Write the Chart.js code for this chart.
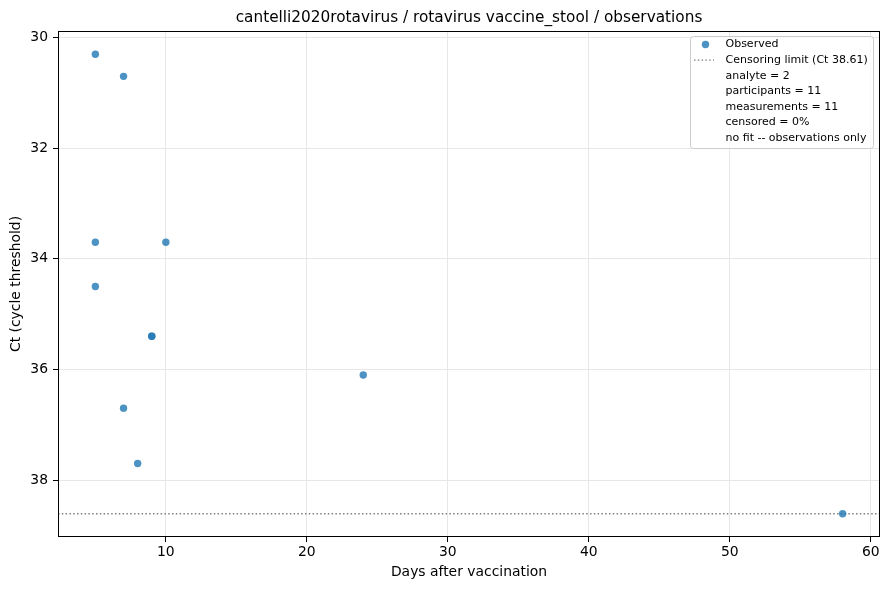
<!DOCTYPE html>
<html>
<head>
<meta charset="utf-8">
<script src="https://cdn.jsdelivr.net/npm/chart.js@4"></script>
<style>
  html, body { margin: 0; padding: 0; background: #fff; }
  #wrap { width: 888px; height: 590px; }
</style>
</head>
<body>
<div id="wrap"><canvas id="ctChart" width="888" height="590"></canvas></div>
<script>
// values
const days = [5, 7, 5, 10, 5, 9, 9, 24, 7, 8, 58];
const ctValues = [30.3, 30.7, 33.7, 33.7, 34.5, 35.4, 35.4, 36.1, 36.7, 37.7, 38.61];
const censorLimit = 38.61;
const xTicks = [10, 20, 30, 40, 50, 60];
const yTicks = [30, 32, 34, 36, 38];
const xRange = [2.35, 60.65];
const yRange = [29.88, 39.03];
const titleText = 'cantelli2020rotavirus / rotavirus vaccine_stool / observations';
const legendLines = [
    'Observed',
    'Censoring limit (Ct ' + censorLimit + ')',
    'analyte = 2',
    'participants = 11',
    'measurements = 11',
    'censored = 0%',
    'no fit -- observations only'
];

const FONT = '"DejaVu Sans", sans-serif';
const AXIS_SIZE = 13.9;
const pointColor = 'rgba(31, 119, 180, 0.8)';

const observed = days.map((d, i) => ({ x: d, y: ctValues[i] }));
const censorLine = xRange.map(x => ({ x: x, y: censorLimit }));

// frame, title and in-plot legend
const decorPlugin = {
    id: 'decor',
    afterDraw(chart) {
        const { ctx, chartArea: a } = chart;
        ctx.save();
        ctx.strokeStyle = '#000';
        ctx.lineWidth = 1;
        ctx.strokeRect(Math.round(a.left) + 0.5, Math.round(a.top) + 0.5,
            Math.round(a.right - a.left) - 1, Math.round(a.bottom - a.top) - 1);

        ctx.fillStyle = '#000';
        ctx.font = '15.3px ' + FONT;
        ctx.textAlign = 'center';
        ctx.textBaseline = 'alphabetic';
        ctx.fillText(titleText, (a.left + a.right) / 2, 21.5);

        // legend box
        const bx = 690, by = 36, bw = 183, bh = 112;
        ctx.beginPath();
        ctx.roundRect(bx + 0.5, by + 0.5, bw, bh, 3);
        ctx.fillStyle = 'rgba(255,255,255,0.8)';
        ctx.fill();
        ctx.strokeStyle = '#cccccc';
        ctx.stroke();

        const rowY = i => 44.5 + i * 15.6;
        ctx.fillStyle = pointColor;
        ctx.beginPath();
        ctx.arc(705.5, rowY(0), 3.7, 0, Math.PI * 2);
        ctx.fill();

        ctx.strokeStyle = '#808080';
        ctx.lineWidth = 1.3;
        ctx.setLineDash([1.5, 2.3]);
        ctx.beginPath();
        ctx.moveTo(694, rowY(1));
        ctx.lineTo(714, rowY(1));
        ctx.stroke();
        ctx.setLineDash([]);

        ctx.fillStyle = '#000';
        ctx.font = '11px ' + FONT;
        ctx.textAlign = 'left';
        ctx.textBaseline = 'middle';
        legendLines.forEach((t, i) => ctx.fillText(t, 725.5, rowY(i)));
        ctx.restore();
    }
};

new Chart(document.getElementById('ctChart'), {
    type: 'scatter',
    data: {
        datasets: [
            {
                label: 'Observed',
                data: observed,
                backgroundColor: pointColor,
                borderWidth: 0,
                pointRadius: 3.7,
                order: 1
            },
            {
                type: 'line',
                label: 'Censoring limit',
                data: censorLine,
                borderColor: '#808080',
                borderWidth: 1.3,
                borderDash: [1.5, 2.3],
                pointRadius: 0,
                fill: false,
                order: 2
            }
        ]
    },
    options: {
        responsive: false,
        animation: false,
        devicePixelRatio: 1,
        layout: { padding: { top: 31, right: 8, left: 0, bottom: 0 } },
        plugins: {
            legend: { display: false },
            title: { display: false },
            tooltip: { enabled: false }
        },
        scales: {
            x: {
                type: 'linear',
                min: xRange[0],
                max: xRange[1],
                afterFit: s => { s.height = 53; },
                afterBuildTicks: s => { s.ticks = xTicks.map(v => ({ value: v })); },
                grid: { color: '#e7e7e7', lineWidth: 1, tickColor: '#000', tickLength: 5 },
                border: { display: false },
                ticks: { color: '#000', padding: 2, font: { family: FONT, size: AXIS_SIZE }, maxRotation: 0 },
                title: {
                    display: true,
                    text: 'Days after vaccination',
                    color: '#000',
                    font: { family: FONT, size: AXIS_SIZE },
                    padding: { top: 0, bottom: 9.7 }
                }
            },
            y: {
                type: 'linear',
                reverse: true,
                min: yRange[0],
                max: yRange[1],
                afterFit: s => { s.width = 58; },
                afterBuildTicks: s => { s.ticks = yTicks.map(v => ({ value: v })); },
                grid: { color: '#e7e7e7', lineWidth: 1, tickColor: '#000', tickLength: 5 },
                border: { display: false },
                ticks: { color: '#000', padding: 5, font: { family: FONT, size: AXIS_SIZE } },
                title: {
                    display: true,
                    text: 'Ct (cycle threshold)',
                    color: '#000',
                    font: { family: FONT, size: AXIS_SIZE },
                    padding: { top: 7.7, bottom: 0 }
                }
            }
        }
    },
    plugins: [decorPlugin]
});
</script>
</body>
</html>
